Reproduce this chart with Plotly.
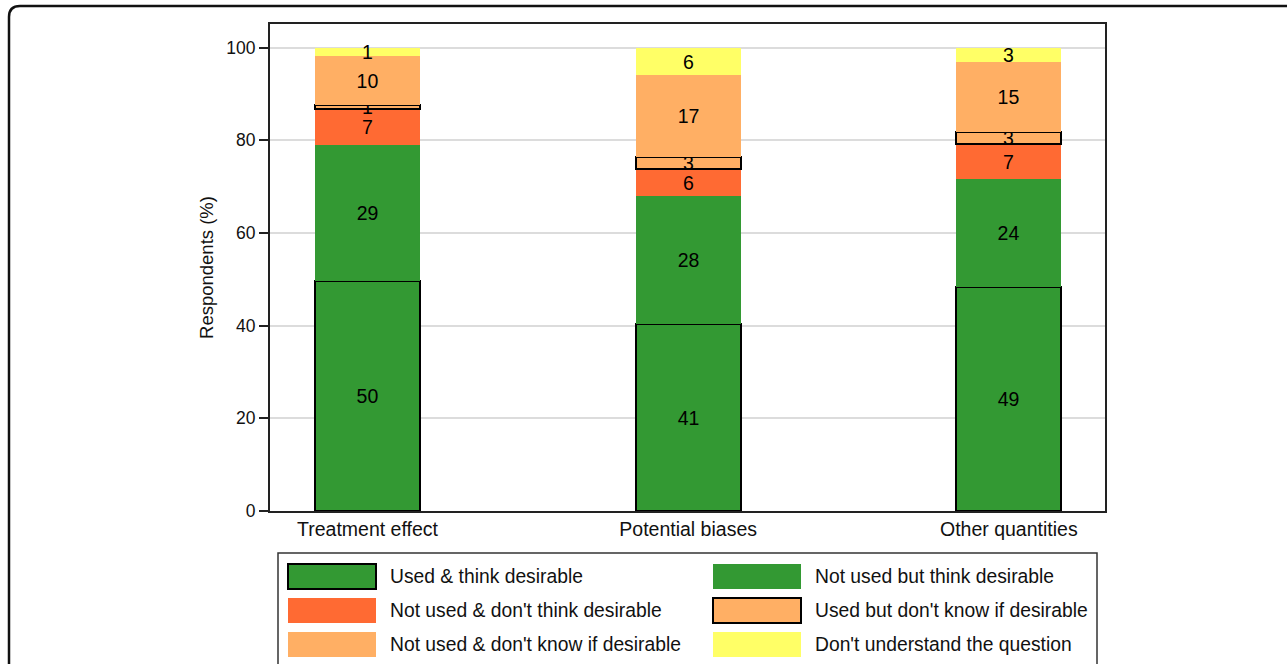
import plotly.graph_objects as go

categories = ["Treatment effect", "Potential biases", "Other quantities"]

series_names = [
    "Used & think desirable",
    "Not used but think desirable",
    "Not used & don't think desirable",
    "Used but don't know if desirable",
    "Not used & don't know if desirable",
    "Don't understand the question",
]

used_desirable = [49.7, 40.3, 48.3]
notused_desirable = [29.3, 27.6, 23.4]
notused_notdesirable = [7.7, 6.0, 7.5]
used_dontknow = [1.0, 2.5, 2.6]
notused_dontknow = [10.4, 17.8, 15.0]
dont_understand = [1.9, 5.8, 3.2]

labels_used_desirable = ["50", "41", "49"]
labels_notused_desirable = ["29", "28", "24"]
labels_notused_notdesirable = ["7", "6", "7"]
labels_used_dontknow = ["1", "3", "3"]
labels_notused_dontknow = ["10", "17", "15"]
labels_dont_understand = ["1", "6", "3"]

colors = ["#339933", "#339933", "#FF6A33", "#FFAF64", "#FFAF64", "#FFFF66"]
bordered = [True, False, False, True, False, False]

values = [used_desirable, notused_desirable, notused_notdesirable,
          used_dontknow, notused_dontknow, dont_understand]
labels = [labels_used_desirable, labels_notused_desirable, labels_notused_notdesirable,
          labels_used_dontknow, labels_notused_dontknow, labels_dont_understand]

FONT = "Liberation Sans, Arial, sans-serif"

fig = go.Figure()
for name, vals, txt, col, brd in zip(series_names, values, labels, colors, bordered):
    fig.add_trace(go.Bar(
        x=categories, y=vals, name=name, text=txt,
        textposition="inside", insidetextanchor="middle", constraintext="none",
        textangle=0,
        insidetextfont=dict(color="black", size=19.5, family=FONT),
        marker=dict(color=col, line=dict(color="black", width=2 if brd else 0)),
        width=0.327, showlegend=False,
    ))

# plot area geometry (pixels)
W, H = 1287, 664
L, R, T, B = 270, 1105, 24, 511
pw, ph = R - L, B - T

def px(x):
    return (x - L) / pw

def py(y):
    return (B - y) / ph

shapes = []
annotations = []

# outer rounded frame
r = 11
path = (f"M {px(9)},{py(700)} L {px(9)},{py(6 + r)} "
        f"Q {px(9)},{py(6)} {px(9 + r)},{py(6)} L {px(1300)},{py(6)}")
shapes.append(dict(type="path", xref="paper", yref="paper", path=path,
                   line=dict(color="#111", width=2.5)))

# legend box
shapes.append(dict(type="rect", xref="paper", yref="paper",
                   x0=px(278), x1=px(1097), y0=py(553), y1=py(680),
                   line=dict(color="#333", width=1.5), fillcolor="white"))

col_x = [(288, 376, 388), (713, 801, 813)]
row_y = [576.5, 610.5, 644.5]
for i, (name, col, brd) in enumerate(zip(series_names, colors, bordered)):
    rr, cc = divmod(i, 2)
    x0, x1, xt = col_x[cc]
    yc = row_y[rr]
    shapes.append(dict(type="rect", xref="paper", yref="paper",
                       x0=px(x0), x1=px(x1), y0=py(yc + 12.5), y1=py(yc - 12.5),
                       fillcolor=col,
                       line=dict(color="black" if brd else col, width=2 if brd else 0)))
    annotations.append(dict(xref="paper", yref="paper", x=px(xt), y=py(yc),
                            text=name, showarrow=False, xanchor="left", yanchor="middle",
                            font=dict(size=19.3, color="#111", family=FONT)))

fig.update_layout(
    barmode="stack",
    width=W, height=H,
    margin=dict(l=L, r=W - R, t=T, b=H - B),
    paper_bgcolor="white", plot_bgcolor="white",
    font=dict(family=FONT, color="#111", size=16),
    shapes=shapes, annotations=annotations,
    bargap=0,
)
fig.update_xaxes(
    range=[-0.304, 2.30], showline=True, linecolor="#222", linewidth=2, mirror=True,
    ticks="", showgrid=False, tickfont=dict(size=19.5, family=FONT, color="#111"),
)
fig.update_yaxes(
    range=[0, 105.1], tickvals=[0, 20, 40, 60, 80, 100],
    showline=True, linecolor="#222", linewidth=2, mirror=True,
    ticks="outside", ticklen=9, tickwidth=2, tickcolor="#222",
    showgrid=True, gridcolor="#DCDCDC", gridwidth=2, zeroline=False,
    tickfont=dict(size=17.5, family=FONT, color="#111"),
    title=dict(text="Respondents (%)", font=dict(size=18.5, family=FONT, color="#111"), standoff=8),
)

fig.write_html("out.html", config={"displayModeBar": False},
               post_script="document.body.style.margin='0';")
